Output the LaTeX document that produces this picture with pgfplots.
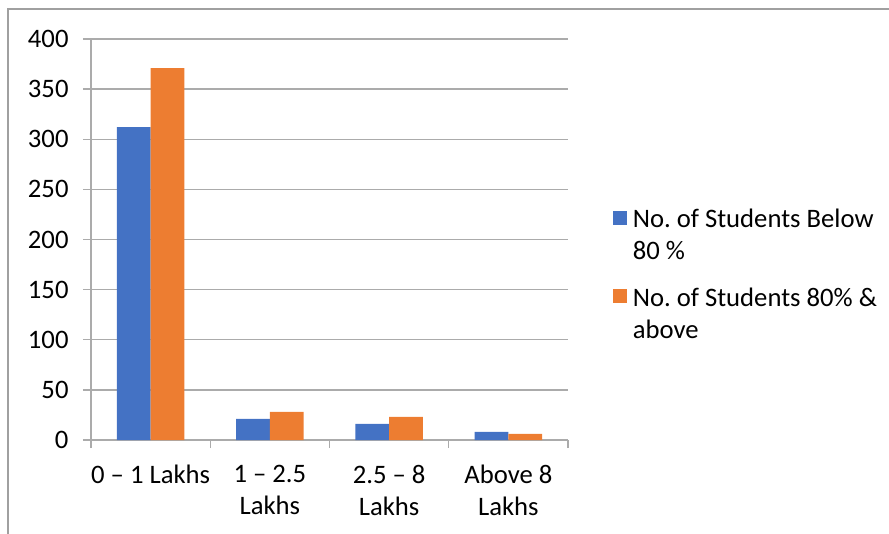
\documentclass[border=0pt]{standalone}
\usepackage{fontspec}
\setmainfont{Carlito}
\usepackage{pgfplots}
\pgfplotsset{compat=1.18}
\definecolor{barblue}{HTML}{4472C4}
\definecolor{barorange}{HTML}{ED7D31}
\definecolor{gridgray}{HTML}{ABABAB}
\definecolor{framegray}{HTML}{A0A0A0}

\begin{document}
\frenchspacing
\fontsize{20}{24}\selectfont
\begin{tikzpicture}
\useasboundingbox (-68.25pt,-69.75pt) rectangle (598.5pt,330pt);
\begin{axis}[
  scale only axis, width=357.75pt, height=300.75pt,
  ybar=0pt, bar width=25.3pt,
  xmin=-0.5, xmax=3.5, ymin=0, ymax=400,
  ytick={0,50,...,400},
  xtick={0,1,2,3},
  xticklabels={0 -- 1 Lakhs, 1 -- 2.5\\Lakhs, 2.5 -- 8\\Lakhs, Above 8\\Lakhs},
  x tick label style={align=center, yshift=-6pt},
  y tick label style={xshift=-4pt},
  minor xtick={-0.5,0.5,1.5,2.5,3.5},
  major x tick style={draw=none},
  minor x tick style={gridgray, line width=1pt},
  major y tick style={gridgray, line width=1pt},
  major tick length=6pt, minor tick length=6pt,
  tick align=outside,
  axis x line*=bottom, axis y line*=left,
  axis line style={gridgray, line width=1pt, -},
  ymajorgrids, major grid style={gridgray, line width=1pt},
  /pgf/number format/assume math mode=true,
  tick label style={font=\fontsize{20}{24}\selectfont, black},
  legend style={at={(1.085,0.592)}, anchor=north west, draw=none, fill=none,
    font=\fontsize{20}{24}\selectfont, row sep=39pt, column sep=4.5pt,
    nodes={inner sep=0pt}},
  legend cell align=left,
  legend image code/.code={\fill[#1] (0pt,-4.5pt) rectangle (10.5pt,6pt);},
]
\addplot[fill=barblue, draw=none] coordinates {(0,312) (1,21) (2,16) (3,8)};
\addplot[fill=barorange, draw=none] coordinates {(0,371) (1,28) (2,23) (3,6)};
\legend{{\begin{tabular}[t]{@{}l@{}}No. of Students Below\\80 \%\end{tabular}},
        {\begin{tabular}[t]{@{}l@{}}No. of Students 80\% \&\\above\end{tabular}}}
\end{axis}
\draw[framegray, line width=1pt] (-62.25pt,-80pt) -- (-62.25pt,323.25pt) -- (620pt,323.25pt);
\end{tikzpicture}
\end{document}
